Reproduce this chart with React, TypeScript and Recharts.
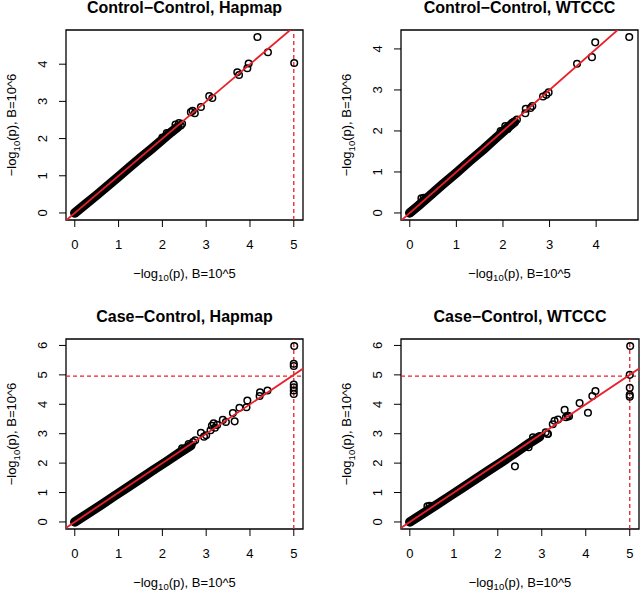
import { ScatterChart, Scatter, XAxis, YAxis, ReferenceLine, ReferenceArea } from "recharts";

const FONT = '"Liberation Sans", Arial, Helvetica, sans-serif';
const RED = "#e8202a";

// Control-Control, Hapmap
const ccHapBandX = [0, 0.25, 0.5, 0.75, 1.0, 1.25, 1.5, 1.75, 2.0, 2.2, 2.35];
const ccHapBandY = [0, 0.24, 0.48, 0.73, 0.98, 1.23, 1.48, 1.72, 1.97, 2.17, 2.31];
const ccHapX = [2.0, 2.1, 2.15, 2.3, 2.38, 2.42, 2.45, 2.65, 2.69, 2.74, 2.88, 3.07, 3.14, 3.71, 3.75, 3.94, 3.97, 4.17, 4.41, 5.01];
const ccHapY = [2.03, 2.15, 2.12, 2.38, 2.42, 2.35, 2.4, 2.71, 2.75, 2.68, 2.85, 3.14, 3.09, 3.78, 3.71, 3.89, 4.02, 4.73, 4.32, 4.03];

// Control-Control, WTCCC
const ccWtBandX = [0, 0.2, 0.45, 0.7, 1.0, 1.3, 1.6, 1.85, 2.05, 2.25];
const ccWtBandY = [0, 0.19, 0.44, 0.69, 0.98, 1.28, 1.57, 1.83, 2.03, 2.22];
const ccWtX = [0.25, 0.3, 1.95, 2.05, 2.1, 2.2, 2.3, 2.48, 2.49, 2.59, 2.63, 2.86, 2.93, 2.98, 3.59, 3.91, 3.98, 4.71];
const ccWtY = [0.36, 0.37, 2.0, 2.12, 2.05, 2.2, 2.28, 2.43, 2.54, 2.56, 2.61, 2.84, 2.88, 2.94, 3.64, 3.8, 4.16, 4.29];

// Case-Control, Hapmap
const caHapBandX = [0, 0.3, 0.6, 0.9, 1.2, 1.5, 1.8, 2.1, 2.4, 2.65];
const caHapBandY = [0, 0.29, 0.58, 0.88, 1.17, 1.47, 1.77, 2.06, 2.36, 2.6];
const caHapX = [2.45, 2.6, 2.7, 2.75, 2.88, 2.95, 3.0, 3.1, 3.13, 3.17, 3.2, 3.25, 3.38, 3.45, 3.61, 3.65, 3.76, 3.92, 3.94, 4.22, 4.23, 4.4, 5.01, 5.0, 5.0, 5.0, 5.0, 5.0, 5.0];
const caHapY = [2.5, 2.65, 2.72, 2.78, 3.03, 2.9, 2.95, 3.12, 3.27, 3.35, 3.2, 3.3, 3.47, 3.4, 3.7, 3.42, 3.88, 3.9, 4.13, 4.28, 4.41, 4.47, 5.98, 5.38, 5.3, 4.67, 4.58, 4.47, 4.35];

// Case-Control, WTCCC
const caWtBandX = [0, 0.3, 0.6, 0.9, 1.2, 1.5, 1.8, 2.1, 2.4, 2.7, 2.95];
const caWtBandY = [0, 0.29, 0.58, 0.87, 1.16, 1.46, 1.76, 2.05, 2.35, 2.66, 2.9];
const caWtX = [0.4, 0.45, 2.39, 2.7, 2.8, 3.09, 3.13, 3.14, 3.25, 3.29, 3.37, 3.52, 3.55, 3.59, 3.62, 3.86, 4.05, 4.15, 4.22, 5.01, 5.0, 5.0, 5.0, 5.0];
const caWtY = [0.53, 0.55, 1.89, 2.54, 2.88, 3.05, 3.0, 2.99, 3.32, 3.44, 3.48, 3.81, 3.56, 3.61, 3.59, 4.04, 3.71, 4.28, 4.45, 5.98, 5.0, 4.56, 4.32, 4.26];

const xTicks5 = [0, 1, 2, 3, 4, 5];
const xTicks4 = [0, 1, 2, 3, 4];
const yTicks4 = [0, 1, 2, 3, 4];
const yTicks6 = [0, 1, 2, 3, 4, 5, 6];

const zip = (xs: number[], ys: number[]) => xs.map((x, i) => ({ x, y: ys[i] }));

// R pads the data range by 4% on each side
const rDomain = (vals: number[]): [number, number] => {
  const lo = Math.min(...vals);
  const hi = Math.max(...vals);
  const pad = (hi - lo) * 0.04;
  return [lo - pad, hi + pad];
};

const Circle = (props: any) => (
  <circle cx={props.cx} cy={props.cy} r={3.3} fill="none" stroke="#000" strokeWidth={1.5} />
);

const NoDot = () => <g />;

const XTick = (props: any) => (
  <text x={props.x} y={props.y + 22} textAnchor="middle" fontSize={13} fontFamily={FONT} fill="#000">
    {props.payload.value}
  </text>
);

const YTick = (props: any) => {
  const x = props.x - 12;
  return (
    <text x={x} y={props.y} transform={`rotate(-90, ${x}, ${props.y})`} textAnchor="middle" fontSize={13} fontFamily={FONT} fill="#000">
      {props.payload.value}
    </text>
  );
};

const LogLabel = ({ x, y, rotate, power }: { x: number; y: number; rotate?: boolean; power: number }) => (
  <text x={x} y={y} transform={rotate ? `rotate(-90, ${x}, ${y})` : undefined} textAnchor="middle" fontSize={13} fontFamily={FONT} fill="#000">
    −log
    <tspan fontSize={9.5} dy={3.5}>10</tspan>
    <tspan dy={-3.5}>{`(p), B=10^${power}`}</tspan>
  </text>
);

interface PanelProps {
  title: string;
  band: { x: number; y: number }[];
  points: { x: number; y: number }[];
  xTicks: number[];
  yTicks: number[];
  vline?: number;
  hline?: number;
  left: number;
  top: number;
  yAxisWidth: number;
  marginRight: number;
  marginTop: number;
  marginBottom: number;
}

function Panel(p: PanelProps) {
  const all = [...p.band, ...p.points];
  const xDomain = rDomain(all.map((d) => d.x));
  const yDomain = rDomain(all.map((d) => d.y));
  const lo = Math.min(xDomain[0], yDomain[0]);
  const hi = Math.max(xDomain[1], yDomain[1]);
  // y = x reference line, drawn on top of the points like abline()
  const diagonal = [
    { x: lo, y: lo },
    { x: hi, y: hi },
  ];
  const width = 320;
  const plotWidth = width - p.yAxisWidth - p.marginRight;

  return (
    <div style={{ position: "absolute", left: p.left, top: p.top, width, height: 297 }}>
      <div
        style={{
          position: "absolute",
          left: p.yAxisWidth,
          width: plotWidth,
          top: p.marginTop - 32,
          textAlign: "center",
          fontFamily: FONT,
          fontWeight: "bold",
          fontSize: 16,
          lineHeight: "20px",
          whiteSpace: "nowrap",
        }}
      >
        {p.title}
      </div>
      <ScatterChart width={width} height={297} margin={{ top: p.marginTop, right: p.marginRight, bottom: p.marginBottom, left: 0 }}>
        <XAxis
          type="number"
          dataKey="x"
          domain={xDomain}
          ticks={p.xTicks}
          interval={0}
          allowDataOverflow
          axisLine={false}
          tickLine={{ stroke: "#000" }}
          tickSize={7}
          tickMargin={0}
          height={40}
          tick={<XTick />}
          label={(lp: any) => (
            <LogLabel x={lp.viewBox.x + lp.viewBox.width / 2} y={lp.viewBox.y + 57.5} power={5} />
          )}
        />
        <YAxis
          type="number"
          dataKey="y"
          domain={yDomain}
          ticks={p.yTicks}
          interval={0}
          allowDataOverflow
          axisLine={false}
          tickLine={{ stroke: "#000" }}
          tickSize={7}
          tickMargin={0}
          width={p.yAxisWidth}
          tick={<YTick />}
          label={(lp: any) => (
            <LogLabel
              x={lp.viewBox.x + lp.viewBox.width - 50}
              y={lp.viewBox.y + lp.viewBox.height / 2}
              rotate
              power={6}
            />
          )}
        />
        {p.vline !== undefined && (
          <ReferenceLine x={p.vline} stroke={RED} strokeWidth={1.3} strokeDasharray="4 3" />
        )}
        {p.hline !== undefined && (
          <ReferenceLine y={p.hline} stroke={RED} strokeWidth={1.3} strokeDasharray="4 3" />
        )}
        <Scatter
          data={p.band}
          shape={Circle}
          line={{ stroke: "#000", strokeWidth: 9.5, strokeLinecap: "round" }}
          isAnimationActive={false}
        />
        <Scatter data={p.points} shape={Circle} isAnimationActive={false} />
        <Scatter
          data={diagonal}
          shape={NoDot}
          line={{ stroke: RED, strokeWidth: 1.8 }}
          isAnimationActive={false}
        />
        <ReferenceArea
          x1={xDomain[0]}
          x2={xDomain[1]}
          y1={yDomain[0]}
          y2={yDomain[1]}
          fill="none"
          fillOpacity={0}
          stroke="#000"
          strokeWidth={1.3}
          ifOverflow="visible"
        />
      </ScatterChart>
    </div>
  );
}

export default function App() {
  return (
    <div style={{ position: "absolute", left: 0, top: 0, width: 640, height: 593, background: "#fff", overflow: "hidden" }}>
      <Panel
        title="Control−Control, Hapmap"
        band={zip(ccHapBandX, ccHapBandY)}
        points={zip(ccHapX, ccHapY)}
        xTicks={xTicks5}
        yTicks={yTicks4}
        vline={5}
        left={0}
        top={0}
        yAxisWidth={66}
        marginRight={17}
        marginTop={30}
        marginBottom={37}
      />
      <Panel
        title="Control−Control, WTCCC"
        band={zip(ccWtBandX, ccWtBandY)}
        points={zip(ccWtX, ccWtY)}
        xTicks={xTicks4}
        yTicks={yTicks4}
        left={320}
        top={0}
        yAxisWidth={81}
        marginRight={2}
        marginTop={30}
        marginBottom={37}
      />
      <Panel
        title="Case−Control, Hapmap"
        band={zip(caHapBandX, caHapBandY)}
        points={zip(caHapX, caHapY)}
        xTicks={xTicks5}
        yTicks={yTicks6}
        vline={5}
        hline={4.96}
        left={0}
        top={296}
        yAxisWidth={66}
        marginRight={17}
        marginTop={43}
        marginBottom={24}
      />
      <Panel
        title="Case−Control, WTCCC"
        band={zip(caWtBandX, caWtBandY)}
        points={zip(caWtX, caWtY)}
        xTicks={xTicks5}
        yTicks={yTicks6}
        vline={5}
        hline={4.96}
        left={320}
        top={296}
        yAxisWidth={81}
        marginRight={1}
        marginTop={43}
        marginBottom={24}
      />
    </div>
  );
}
